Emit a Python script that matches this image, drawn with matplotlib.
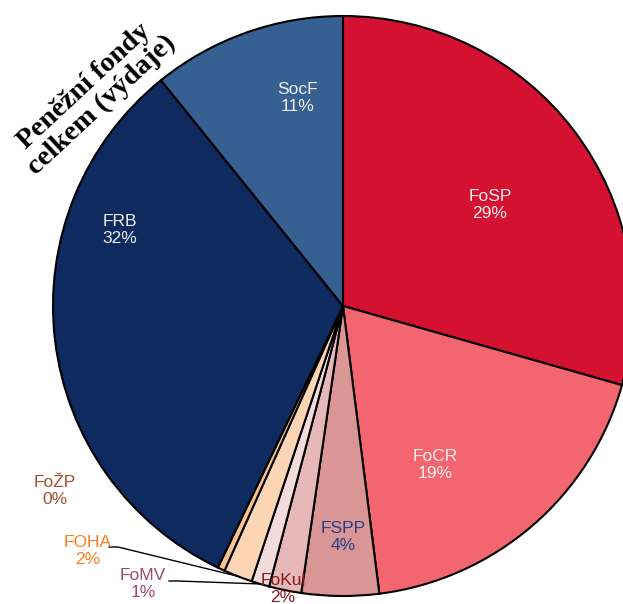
import numpy as np
import matplotlib
matplotlib.use("Agg")
import matplotlib.pyplot as plt

# podíly fondů (v %), po směru hodin od 12 hodin
labels = ["FoSP", "FoCR", "FSPP", "FoKul", "FoMV", "FOHA", "FoŽP", "FRB", "SocF"]
shares = [29.4, 18.6, 4.3, 1.8, 1.0, 1.6, 0.4, 32.1, 10.8]
pct_text = ["29%", "19%", "4%", "2%", "1%", "2%", "0%", "32%", "11%"]

colors = ["#d41131", "#f4666f", "#d99694", "#e6b9b8", "#f2dcdb",
          "#fcd5b5", "#fac090", "#0f2a5f", "#376092"]
text_colors = ["#f0eeee", "#f0eeee", "#24408a", "#8b1a1a", "#a0466e",
               "#ff7a1a", "#a0522d", "#f0eeee", "#f0eeee"]
# label centres in pixel coords of the picture (x, y from top)
label_xy = [(490, 205), (435, 465), (343, 537), (283, 589), (143, 584),
            (88, 551), (55, 491), (120, 230), (298, 98)]
leaders = {"FOHA": (109, 547), "FoMV": (169, 581)}

W, H = 623, 604
cx, cy, R = 343, 306, 290

fig = plt.figure(figsize=(W / 100, H / 100), dpi=100)
ax = fig.add_axes([0, 0, 1, 1])
wedges, _ = ax.pie(shares, colors=colors, startangle=90, counterclock=False,
                   center=(cx, H - cy), radius=R,
                   wedgeprops=dict(edgecolor="black", linewidth=1.5))
ax.set_xlim(0, W)
ax.set_ylim(0, H)
ax.set_aspect("auto")
ax.axis("off")

for w, lab, pct, tc, (x, y) in zip(wedges, labels, pct_text, text_colors, label_xy):
    ax.text(x, H - y, lab + "\n" + pct, ha="center", va="center", color=tc,
            fontsize=12.5, family="Liberation Sans", linespacing=1.1)
    if lab in leaders:
        lx, ly = leaders[lab]
        mid = np.deg2rad((w.theta1 + w.theta2) / 2)
        ex, ey = cx + R * np.cos(mid), H - cy + R * np.sin(mid)
        ax.plot([lx, lx + 9, ex], [H - ly, H - ly, ey], color="black", lw=1.0)

ax.text(93, H - 96, "Peněžní fondy\ncelkem (výdaje)", rotation=43,
        rotation_mode="anchor", ha="center", va="center",
        family="Liberation Serif", fontweight="bold", fontsize=20.5,
        linespacing=1.0)

fig.savefig("out.png", dpi=100)
